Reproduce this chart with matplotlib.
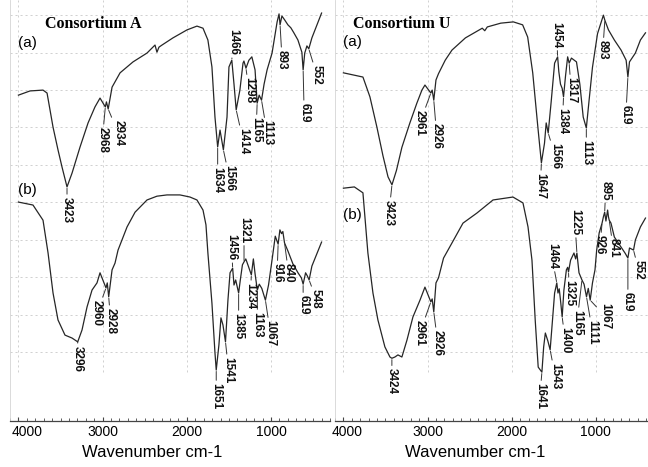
import numpy as np
import matplotlib
matplotlib.use("Agg")
import matplotlib.pyplot as plt
from matplotlib.ticker import MultipleLocator
from matplotlib.transforms import ScaledTranslation

plt.rcParams['font.family'] = ['Liberation Sans', 'DejaVu Sans']

# ---- spectra (wavenumber cm-1, transmittance a.u.) ----
a_a_wn = [4000, 3862, 3708, 3660, 3589, 3530, 3482, 3423, 3363, 3268, 3173, 3091, 3031, 2968,
          2955, 2934, 2888, 2793, 2639, 2473, 2378, 2355, 2331, 2295, 2165, 1998, 1880, 1808,
          1750, 1702, 1666, 1634, 1606, 1566, 1523, 1500, 1466, 1440, 1414, 1370, 1333, 1322,
          1298, 1263, 1228, 1190, 1165, 1141, 1113, 1083, 1047, 988, 928, 905, 893, 871, 836,
          800, 765, 729, 681, 634, 619, 600, 574, 552, 515, 400]
a_a_t = [77.4, 78.4, 78.6, 77.9, 69.8, 64.4, 60.3, 55.6, 58.9, 65.1, 70.8, 74.6, 76.7, 74.6,
         75.8, 74.1, 79.3, 82.7, 85.3, 87.4, 89.3, 87.6, 88.8, 89.3, 91.0, 92.9, 93.8, 93.3,
         90.5, 84.1, 72.2, 65.1, 69.1, 64.4, 72.2, 84.1, 85.7, 80.0, 73.9, 78.6, 85.0, 85.5,
         83.8, 85.7, 86.5, 83.4, 75.5, 77.4, 76.2, 80.0, 83.4, 87.4, 94.8, 96.7, 94.1, 96.2, 95.2,
         94.1, 93.4, 92.2, 90.5, 87.6, 83.4, 87.4, 89.1, 88.4, 91.0, 96.9]

a_b_wn = [4000, 3827, 3708, 3648, 3589, 3530, 3447, 3363, 3296, 3245, 3185, 3126, 3067, 3031,
          2960, 2945, 2928, 2888, 2853, 2817, 2710, 2615, 2473, 2355, 2236, 2082, 1963, 1880,
          1808, 1773, 1750, 1702, 1666, 1651, 1619, 1595, 1571, 1541, 1512, 1487, 1456, 1440,
          1420, 1385, 1365, 1340, 1321, 1300, 1270, 1234, 1210, 1190, 1163, 1140, 1110, 1067,
          1030, 990, 950, 916, 895, 875, 860, 840, 800, 740, 680, 640, 619, 590, 570, 548, 515, 400]
a_b_t = [52.0, 51.3, 47.7, 39.9, 30.4, 24.0, 20.4, 19.7, 18.8, 21.6, 27.1, 31.1, 32.8, 35.2,
         31.6, 32.8, 29.5, 35.9, 37.5, 40.6, 46.1, 49.6, 52.5, 53.4, 53.7, 53.7, 53.2, 52.5,
         50.1, 46.6, 39.9, 28.0, 16.2, 12.1, 18.1, 24.5, 22.8, 18.8, 28.7, 35.2, 36.3, 32.3,
         33.5, 30.4, 33.5, 37.1, 37.8, 38.5, 36.8, 34.7, 38.5, 35.0, 31.1, 32.5, 31.5, 28.7,
         32.3, 38.0, 43.9, 42.0, 45.4, 44.5, 45.0, 42.3, 40.4, 37.3, 35.2, 34.0, 32.5, 35.2, 34.5,
         33.5, 36.8, 42.5]

u_a_wn = [4000, 3768, 3685, 3602, 3530, 3470, 3423, 3370, 3305, 3210, 3127, 3067, 3031, 2961,
          2945, 2926, 2900, 2870, 2790, 2710, 2550, 2350, 2320, 2290, 2130, 1980, 1870, 1810,
          1750, 1690, 1647, 1610, 1590, 1566, 1530, 1490, 1454, 1440, 1420, 1400, 1384, 1360,
          1335, 1317, 1290, 1230, 1190, 1150, 1113, 1080, 1040, 980, 910, 893, 850, 780, 700,
          640, 619, 600, 530, 470, 410]
u_a_t = [82.7, 81.7, 77.0, 69.8, 63.0, 58.0, 56.1, 59.5, 65.0, 70.8, 75.5, 78.6, 79.8, 77.9,
         78.6, 76.2, 81.0, 82.5, 85.7, 88.1, 91.0, 93.3, 92.7, 93.6, 94.5, 94.8, 94.1, 91.2,
         82.7, 70.0, 61.3, 66.0, 70.8, 68.4, 76.0, 85.0, 86.5, 83.0, 80.0, 79.0, 77.0, 82.0,
         86.5, 85.0, 86.2, 85.3, 80.0, 72.2, 69.6, 76.2, 84.0, 92.0, 96.4, 95.2, 92.9, 90.5, 88.1,
         85.7, 81.7, 85.3, 87.4, 90.5, 92.2]

u_b_wn = [4000, 3870, 3768, 3709, 3649, 3590, 3507, 3447, 3424, 3388, 3352, 3305, 3245, 3174,
          3090, 3031, 2961, 2945, 2926, 2900, 2870, 2810, 2690, 2579, 2413, 2222, 1985, 1866,
          1806, 1759, 1720, 1685, 1641, 1620, 1600, 1570, 1543, 1515, 1490, 1464, 1450, 1435,
          1420, 1400, 1380, 1350, 1335, 1325, 1300, 1260, 1240, 1225, 1200, 1165, 1140, 1111,
          1090, 1067, 1040, 1010, 990, 960, 926, 910, 895, 880, 860, 850, 841, 820, 780, 700,
          650, 619, 600, 552, 530, 470, 410]
u_b_t = [55.3, 55.6, 54.2, 39.9, 30.4, 24.0, 17.6, 15.2, 14.9, 15.2, 15.7, 15.2, 19.2, 24.7,
         28.7, 31.8, 28.3, 29.0, 25.9, 32.8, 34.0, 38.7, 43.0, 47.0, 49.4, 52.5, 53.2, 51.8,
         46.1, 38.2, 23.8, 12.8, 11.6, 17.6, 20.9, 19.0, 16.9, 24.0, 30.4, 32.8, 30.4, 31.4,
         28.7, 24.7, 31.0, 35.9, 36.5, 35.4, 38.2, 39.9, 38.5, 39.9, 35.2, 33.5, 32.5, 29.5,
         31.5, 28.7, 32.8, 35.9, 40.6, 44.7, 47.0, 48.5, 49.6, 47.5, 50.1, 48.5, 47.7, 47.0, 43.7,
         41.3, 39.8, 38.7, 41.1, 40.6, 43.0, 46.1, 48.2]

# peak labels
a_a_peaks = [3423, 2968, 2934, 1634, 1566, 1466, 1414, 1298, 1165, 1113, 893, 619, 552]
a_b_peaks = [3296, 2960, 2928, 1651, 1541, 1456, 1385, 1321, 1234, 1163, 1067, 916, 840, 619, 548]
u_a_peaks = [3423, 2961, 2926, 1647, 1566, 1454, 1384, 1317, 1113, 893, 619]
u_b_peaks = [3424, 2961, 2926, 1641, 1543, 1464, 1400, 1325, 1225, 1165, 1111, 1067, 926, 895,
             841, 619, 552]

# label placement: (dx, dy) pixels from the peak; dy > 0 text below, dy < 0 text above
a_a_pos = [(0, 10), (-3, 20), (10, 11), (0, 20), (6, 15), (1, -5), (7, 18), (3, 9), (-1, 14),
           (5.5, 20), (2, 25), (1, 33), (8, 16)]
a_b_pos = [(0, 4), (-9, 12), (2, 11), (0, 13), (3, 15), (-1, -8), (0, 20), (0, -19), (-1, 8),
           (0, 22), (5, 20), (-1, 19), (4, 20), (0, 11), (7, 9)]
u_a_pos = [(-3, 15), (-11, 17), (3, 23), (-1, 10), (7, 10), (-1, -9), (-1, 11), (2, 14),
           (0, 12), (-2, 20), (-2, 28)]
u_b_pos = [(0, 10), (-11, 18), (4, 18), (-2, 11), (5, 13), (-5, -14), (3, 10), (1, 8), (-2, -18),
           (-5, 30), (6, 23), (15, 3), (-2, 12), (1, -12), (4, 18), (0, 34), (5, 10)]

INK = '#262626'

fig = plt.figure(figsize=(6.48, 4.67), dpi=100)
axL = fig.add_axes([10 / 648, 46 / 467, 320 / 648, 421 / 467])
axR = fig.add_axes([335 / 648, 46 / 467, 313 / 648, 421 / 467])


def label_peaks(ax, wn, t, peaks, pos):
    wn_r = np.array(wn)[::-1]
    t_r = np.array(t)[::-1]
    for p, (dx, dy) in zip(peaks, pos):
        y = np.interp(p, wn_r, t_r)
        ax.annotate(str(p), xy=(p, y), xytext=(dx, -dy), textcoords='offset pixels',
                    rotation=270, ha='center', va='top' if dy > 0 else 'bottom',
                    fontsize=8.5, fontweight='bold', color='#111111',
                    arrowprops=dict(arrowstyle='-', lw=0.7, color='#333333',
                                    shrinkA=0, shrinkB=1))


def setup(ax, xlim, title, ya, yb, xt, xlab, shift4000):
    ax.set_xlim(*xlim)
    ax.set_ylim(0, 100)
    grid_levels = np.linspace(16.4, 96.4, 10)
    ax.hlines(grid_levels, xlim[0], xlim[1], colors='#c9c9c9', lw=0.6,
              linestyles=(0, (2.5, 3.5)), zorder=0)
    ax.vlines([4000, 3000, 2000, 1000], 11.6, 100, colors='#c9c9c9', lw=0.6,
              linestyles=(0, (2.5, 3.5)), zorder=0)
    for s in ['top', 'right']:
        ax.spines[s].set_visible(False)
    ax.spines['left'].set_color('#d5d5d5')
    ax.spines['left'].set_linewidth(0.6)
    ax.spines['bottom'].set_color('#444444')
    ax.spines['bottom'].set_linewidth(0.9)
    ax.set_yticks([])
    ax.set_xticks([4000, 3000, 2000, 1000])
    ax.xaxis.set_minor_locator(MultipleLocator(100))
    ax.tick_params(axis='x', which='major', direction='in', length=3, width=0.8,
                   color='#444444', labelsize=10, pad=3)
    ax.tick_params(axis='x', which='minor', direction='in', length=2, width=0.6,
                   color='#444444')
    lab = ax.get_xticklabels()[0]
    lab.set_transform(lab.get_transform() +
                      ScaledTranslation(shift4000 / 100, 0, fig.dpi_scale_trans))
    ax.set_xlabel('Wavenumber cm-1', fontsize=12)
    ax.xaxis.set_label_coords(xlab, -0.056)
    ax.text(xt, 0.943, title, transform=ax.transAxes, fontsize=11.5, fontweight='bold',
            family='Liberation Serif', ha='left', va='center')
    ax.text(0.026, ya, '(a)', transform=ax.transAxes, fontsize=11, ha='left', va='center')
    ax.text(0.026, yb, '(b)', transform=ax.transAxes, fontsize=11, ha='left', va='center')


setup(axL, (4100, 300), 'Consortium A', 0.898, 0.549, 0.109, 0.444, 9)
setup(axR, (4100, 380), 'Consortium U', 0.900, 0.489, 0.058, 0.447, 4)

axL.plot(a_a_wn, a_a_t, color=INK, lw=0.9)
axL.plot(a_b_wn, a_b_t, color=INK, lw=0.9)
axR.plot(u_a_wn, u_a_t, color=INK, lw=0.9)
axR.plot(u_b_wn, u_b_t, color=INK, lw=0.9)

label_peaks(axL, a_a_wn, a_a_t, a_a_peaks, a_a_pos)
label_peaks(axL, a_b_wn, a_b_t, a_b_peaks, a_b_pos)
label_peaks(axR, u_a_wn, u_a_t, u_a_peaks, u_a_pos)
label_peaks(axR, u_b_wn, u_b_t, u_b_peaks, u_b_pos)

fig.savefig('out.png', dpi=100)
